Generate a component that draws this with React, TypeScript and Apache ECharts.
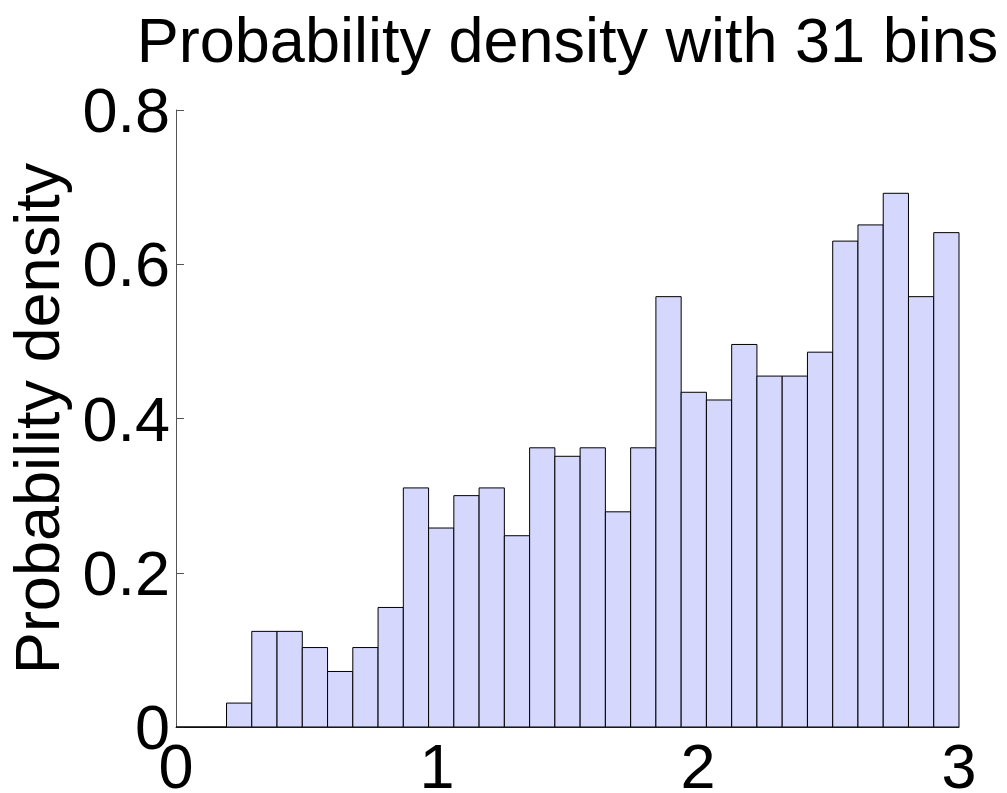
import React, { useEffect, useRef } from "react";
import * as echarts from "echarts";

// Histogram settings
const binCount = 31;
const xMin = 0;
const xMax = 3;

// Probability density per bin (left to right)
const densities = [
  0, 0, 0.031, 0.124, 0.124, 0.103, 0.072, 0.103, 0.155, 0.31, 0.258,
  0.3, 0.31, 0.248, 0.362, 0.351, 0.362, 0.279, 0.362, 0.558, 0.434,
  0.424, 0.496, 0.455, 0.455, 0.486, 0.63, 0.651, 0.692, 0.558, 0.641,
];

const xTicks = [0, 1, 2, 3];
const yTicks = [0, 0.2, 0.4, 0.6, 0.8];

const titleText = "Probability density with 31 bins";
const yName = "Probability density";

const FONT = "'Liberation Sans', Arial, Helvetica, sans-serif";
const FONT_SIZE = 63;

export default function App() {
  const ref = useRef<HTMLDivElement>(null);

  useEffect(() => {
    if (!ref.current) return;
    const chart = echarts.init(ref.current, undefined, { renderer: "svg" });

    const binWidth = (xMax - xMin) / binCount;
    const bins = densities.map((d, i) => [
      xMin + i * binWidth,
      xMin + (i + 1) * binWidth,
      d,
    ]);

    const gridLeft = 176;
    const gridRight = 48;
    const plotCenter = gridLeft + (1007 - gridLeft - gridRight) / 2;

    chart.setOption({
      animation: false,
      backgroundColor: "#ffffff",
      grid: {
        left: gridLeft,
        right: gridRight,
        top: 110,
        bottom: 66,
        containLabel: false,
        outerBoundsMode: "none",
      },
      graphic: [
        {
          type: "text",
          x: plotCenter,
          y: 40,
          style: {
            text: titleText,
            font: `${FONT_SIZE}px ${FONT}`,
            fill: "#000",
            textAlign: "center",
            textVerticalAlign: "middle",
          },
        },
      ],
      xAxis: {
        type: "value",
        min: xTicks[0],
        max: xTicks[xTicks.length - 1],
        interval: 1,
        splitLine: { show: false },
        axisLine: { show: true, lineStyle: { color: "#333", width: 1 } },
        axisTick: { show: false },
        axisLabel: {
          color: "#000",
          fontSize: FONT_SIZE,
          fontFamily: FONT,
          margin: 7,
        },
      },
      yAxis: {
        type: "value",
        min: yTicks[0],
        max: yTicks[yTicks.length - 1],
        interval: 0.2,
        splitLine: { show: false },
        axisLine: { show: true, lineStyle: { color: "#555", width: 1 } },
        axisTick: {
          show: true,
          inside: true,
          length: 8,
          lineStyle: { color: "#555" },
        },
        axisLabel: {
          color: "#000",
          fontSize: FONT_SIZE,
          fontFamily: FONT,
          margin: 6,
          formatter: (v: number) => (v === 0 ? "0" : String(+v.toFixed(1))),
        },
        name: yName,
        nameLocation: "middle",
        nameGap: 108,
        nameTextStyle: { color: "#000", fontSize: FONT_SIZE, fontFamily: FONT },
      },
      series: [
        {
          type: "custom",
          data: bins,
          encode: { x: [0, 1], y: 2 },
          renderItem: (params: any, api: any) => {
            const x0 = api.value(0);
            const x1 = api.value(1);
            const h = api.value(2);
            const p0 = api.coord([x0, 0]);
            const p1 = api.coord([x1, h]);
            return {
              type: "rect",
              shape: {
                x: p0[0],
                y: p1[1],
                width: p1[0] - p0[0],
                height: p0[1] - p1[1],
              },
              style: {
                fill: "#d5d7fd",
                stroke: "#000",
                lineWidth: 1,
              },
            };
          },
        },
      ],
    });

    return () => chart.dispose();
  }, []);

  return (
    <div
      ref={ref}
      style={{
        position: "absolute",
        left: 0,
        top: 0,
        width: 1007,
        height: 793,
      }}
    />
  );
}
